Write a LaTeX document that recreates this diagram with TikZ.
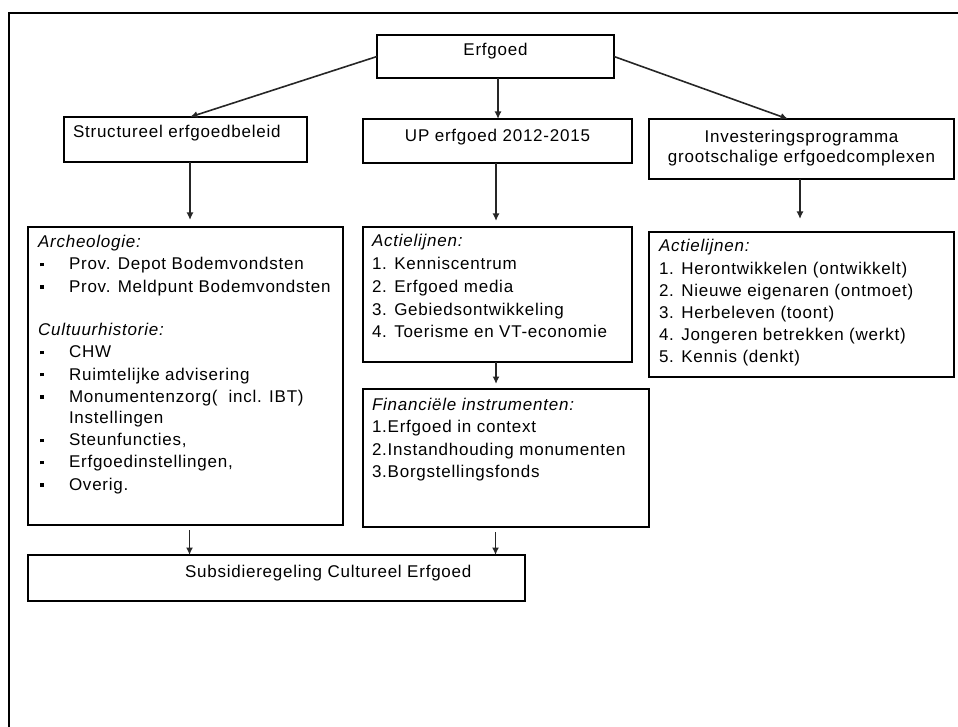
\documentclass[tikz,border=0pt]{standalone}
\usepackage{fontspec}
\setmainfont{Liberation Sans}[LetterSpace=4.5]
\usetikzlibrary{arrows.meta,calc}
\newcommand{\bul}{\makebox[31pt][l]{\hspace{2pt}\rule[3.5pt]{3.5pt}{3.5pt}}}
\newcommand{\rows}[1]{\begin{tabular}[t]{@{}l@{}}#1\end{tabular}}
\newcommand{\crows}[1]{\begin{tabular}[t]{@{}c@{}}#1\end{tabular}}
\begin{document}
\begin{tikzpicture}[x=1pt,y=-1pt,
  box/.style={draw=black,line width=1.5pt,inner sep=0pt,outer sep=0pt,anchor=north west},
  txt/.style={inner sep=0pt,outer sep=0pt,font={\fontsize{17}{22}\selectfont}},
  arr/.style={draw=black!85,line width=1.6pt,-{Latex[length=7.5pt,width=7pt]}}]
\useasboundingbox (0,0) rectangle (958,727);
\draw[line width=1.8pt] (9,727) -- (9,13) -- (958,13);

% boxes
\node[box,minimum width=237pt,minimum height=43pt] (erf) at (377,35) {};
\node[box,minimum width=243pt,minimum height=45pt] (str) at (64,117) {};
\node[box,minimum width=269pt,minimum height=44pt] (up) at (363,119) {};
\node[box,minimum width=305pt,minimum height=60pt] (inv) at (649,119) {};
\node[box,minimum width=315pt,minimum height=298pt] (arch) at (28,227) {};
\node[box,minimum width=269pt,minimum height=135pt] (act) at (363,227) {};
\node[box,minimum width=286pt,minimum height=138pt] (fin) at (363,389) {};
\node[box,minimum width=305pt,minimum height=145pt] (act2) at (649,232) {};
\node[box,minimum width=497pt,minimum height=46pt] (sub) at (28,555) {};

% texts
\node[txt,anchor=base] (terf) at (495.5,56) {Erfgoed};
\node[txt,anchor=base west] (tstr) at (73,138) {Structureel erfgoedbeleid};
\node[txt,anchor=base] (tup) at (497.5,142) {UP erfgoed 2012-2015};
\node[txt,anchor=base,font={\fontsize{17}{20}\selectfont}] (tinv) at (801.5,143)
  {\crows{Investeringsprogramma\\grootschalige erfgoedcomplexen}};
\node[txt,anchor=base west] (tarch) at (38,248) {\rows{\textit{Archeologie:}\\
\bul Prov. Depot Bodemvondsten\\
\bul Prov. Meldpunt Bodemvondsten\\
\\
\textit{Cultuurhistorie:}\\
\bul CHW\\
\bul Ruimtelijke advisering\\
\bul Monumentenzorg(\ \ incl. IBT)\\
\hspace*{31pt}Instellingen\\
\bul Steunfuncties,\\
\bul Erfgoedinstellingen,\\
\bul Overig.}};
\node[txt,anchor=base west,font={\fontsize{17}{22.75}\selectfont}] (tact) at (372,247) {\rows{\textit{Actielijnen:}\\
1. Kenniscentrum\\
2. Erfgoed media\\
3. Gebiedsontwikkeling\\
4. Toerisme en VT-economie}};
\node[txt,anchor=base west,font={\fontsize{17}{22.5}\selectfont}] (tfin) at (372,410) {\rows{\textit{Financiële instrumenten:}\\
1.Erfgoed in context\\
2.Instandhouding monumenten\\
3.Borgstellingsfonds}};
\node[txt,anchor=base west,font={\fontsize{17}{22.2}\selectfont}] (tact2) at (659,252) {\rows{\textit{Actielijnen:}\\
1. Herontwikkelen (ontwikkelt)\\
2. Nieuwe eigenaren (ontmoet)\\
3. Herbeleven (toont)\\
4. Jongeren betrekken (werkt)\\
5. Kennis (denkt)}};
\node[txt,anchor=base west] (tsub) at (185,577) {Subsidieregeling Cultureel Erfgoed};

% connectors
\draw[arr] (erf.west) -- ($(str.north)+(4.5,0)$);
\draw[arr] ($(erf.south)+(2.5,0)$) -- ($(up.north)+(0.5,0)$);
\draw[arr] (erf.east) -- ($(inv.north)+(-13.5,0)$);
\draw[arr] ($(str.south)+(4.5,0)$) -- ($(arch.north)+(4.5,-7)$);
\draw[arr] ($(up.south)+(-1.5,0)$) -- ($(act.north)+(-1.5,-6)$);
\draw[arr] ($(inv.south)+(-1.5,0)$) -- ($(act2.north)+(-1.5,-13)$);
\draw[arr] ($(act.south)+(-1.5,0)$) -- ($(act.south |- fin.north)+(-1.5,-5)$);
\draw[arr] ($(arch.south)+(4,5)$) -- ($(arch.south |- sub.north)+(4,0)$);
\draw[arr] ($(act.south |- fin.south)+(-2,5)$) -- ($(act.south |- sub.north)+(-2,0)$);
\end{tikzpicture}
\end{document}
